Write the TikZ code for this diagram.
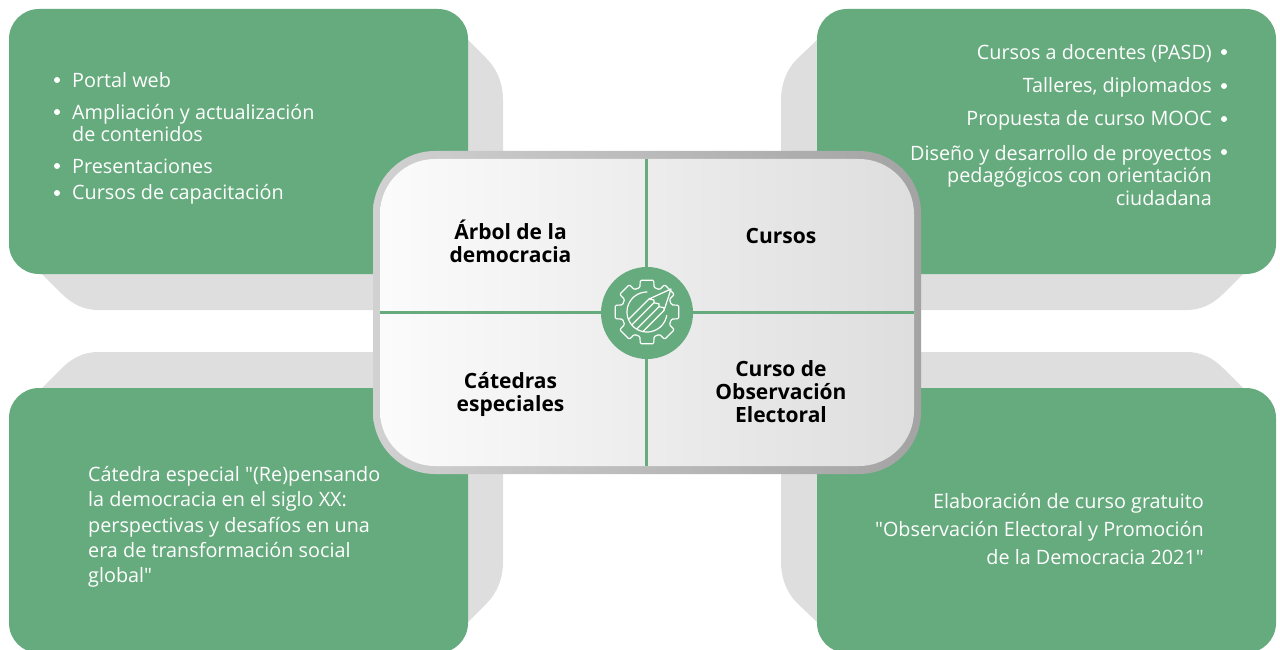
\documentclass[tikz,border=0pt]{standalone}
\usepackage{fontspec}
\setmainfont{Open Sans}
\newfontfamily\plainqf{Open Sans}
\newcommand{\stq}{{\plainqf"}}
\definecolor{grn}{HTML}{66AB7E}
\definecolor{shade}{HTML}{DEDEDE}
\tikzset{
  x=1pt,y=-1pt,
  greenbox/.style={fill=grn,rounded corners=30pt,minimum width=459pt,minimum height=265pt,inner sep=0pt,draw=none},
  grayback/.style={fill=shade,draw=none},
  itemtxt/.style={text=white,inner sep=0pt,font=\fontsize{19.8}{22.5}\selectfont},
  littxt/.style={text=white,inner sep=0pt},
  headtxt/.style={text=black,inner sep=0pt,align=center,font=\fontsize{21}{23}\selectfont\bfseries},
  divider/.style={draw=grn,line width=3pt},
  iconline/.style={draw=white,line width=1.2pt,line join=round,line cap=round},
  dot/.style={circle,fill=white,minimum size=6pt,inner sep=0pt},
}
\begin{document}
\begin{tikzpicture}
\useasboundingbox (0,0) rectangle (1280,650);
\clip (0,0) rectangle (1280,650);
% grey back shapes
\path[grayback] (42,274) -- (62,294) .. controls (72,304) and (84,310) .. (98,310) -- (503,310) -- (503,100) .. controls (503,85) and (498,70) .. (487,59) -- (468,40) -- cycle;
\path[grayback] (1243,274) -- (1223,294) .. controls (1213,304) and (1201,310) .. (1187,310) -- (781,310) -- (781,100) .. controls (781,85) and (786,70) .. (797,59) -- (817,40) -- cycle;
\path[grayback] (42,388) -- (62,368) .. controls (72,358) and (84,352) .. (98,352) -- (503,352) -- (503,562) .. controls (503,577) and (498,592) .. (487,603) -- (468,622) -- cycle;
\path[grayback] (1243,388) -- (1223,368) .. controls (1213,358) and (1201,352) .. (1187,352) -- (781,352) -- (781,562) .. controls (781,577) and (786,592) .. (797,603) -- (817,622) -- cycle;
% green boxes
\node[greenbox] (tl) at (238.5,141.5) {};
\node[greenbox] (tr) at (1046.5,141.5) {};
\node[greenbox] (bl) at (238.5,520.5) {};
\node[greenbox] (br) at (1046.5,520.5) {};
% centre panel
\node[minimum width=548pt,minimum height=323pt,rounded corners=62pt,inner sep=0pt,left color=black!18,right color=black!36] (frame) at (647,312.5) {};
\node[minimum width=534pt,minimum height=307pt,rounded corners=55pt,inner sep=0pt,left color=black!1.5,right color=black!13] (panel) at (647,312.5) {};
\draw[divider] ([xshift=-1pt]panel.north) -- ([xshift=-1pt]panel.south);
\draw[divider] (panel.west) -- (panel.east);
\node[circle,fill=grn,minimum size=92pt,inner sep=0pt] (hub) at (647,313) {};
% icon
\begin{scope}[shift={(647,312)}]
  \draw[iconline,rounded corners=1.2pt] (-16:25.5) \foreach \a in {0,45,...,315}{
    -- (\a-16:25.5) -- (\a-12:32.5) -- (\a+12:32.5) -- (\a+16:25.5) -- (\a+22.5:25.5)} -- cycle;
  \draw[iconline] plot[domain=10:270,samples=40,smooth] (\x:20);
  \begin{scope}
    \clip (0,0) circle (20);
    \foreach \d in {0,1,2,3}{
      \draw[iconline,line cap=butt] (2+5*\d,-13+3.83*\d) -- ++(-40,40);
    }
  \end{scope}
  \draw[iconline] (24,-23) -- (2,-13) -- (7,-12) -- (7,-9.2) -- (12,-8.2) -- (12,-5.3) -- (17,-4.3) -- (17,-1.5) -- cycle;
\end{scope}
% centre labels
\node[headtxt] (q1) at (510.5,241) {Árbol de la\\democracia};
\node[headtxt] (q2) at (781,236) {Cursos};
\node[headtxt] (q3) at (510.5,394) {Cátedras\\especiales};
\node[headtxt] (q4) at (781,391.5) {Curso de\\Observación\\Electoral};
% top-left list
\foreach \n/\y in {a/80,b/112,c/166,d/193}{
  \node[dot] (bul\n) at (57,\y) {};
}
\node[itemtxt,anchor=base west] (ta) at (72,88) {Portal web};
\node[itemtxt,anchor=north west,align=left] (tb) at (72,104) {Ampliación y actualización\\de contenidos};
\node[itemtxt,anchor=base west] (tc) at (72,174) {Presentaciones};
\node[itemtxt,anchor=base west] (td) at (72,200) {Cursos de capacitación};
% top-right list
\foreach \n/\y in {a/52,b/86,c/119,d/152}{
  \node[dot] (bur\n) at (1224,\y) {};
}
\node[itemtxt,anchor=base east] (ra) at (1212,60) {Cursos a docentes (PASD)};
\node[itemtxt,anchor=base east] (rb) at (1212,93) {Talleres, diplomados};
\node[itemtxt,anchor=base east] (rc) at (1212,126) {Propuesta de curso MOOC};
\node[itemtxt,anchor=north east,align=right] (rd) at (1212,145) {Diseño y desarrollo de proyectos\\pedagógicos con orientación\\ciudadana};
% bottom-left text
\node[littxt,anchor=north west,align=left,font=\fontsize{19.8}{25.4}\selectfont] (blt) at (88,466) {Cátedra especial \stq(Re)pensando\\la democracia en el siglo XX:\\perspectivas y desafíos en una\\era de transformación social\\global\stq};
% bottom-right text
\node[littxt,anchor=north east,align=right,font=\fontsize{19.8}{28}\selectfont] (brt) at (1204,493) {Elaboración de curso gratuito\\\stq Observación Electoral y Promoción\\de la Democracia 2021\stq};
\end{tikzpicture}
\end{document}
